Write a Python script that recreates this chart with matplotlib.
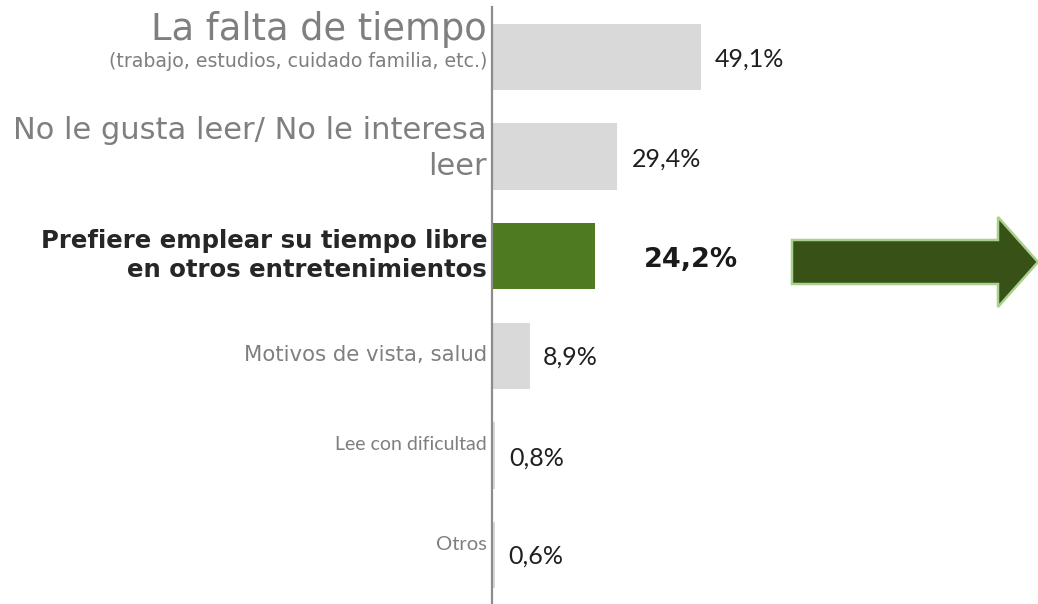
import matplotlib
matplotlib.use("Agg")
import matplotlib.pyplot as plt
from matplotlib.patches import FancyArrow

# ---- data ----
cat_main = "La falta de tiempo"
sublabel = "(trabajo, estudios, cuidado familia, etc.)"
cat_2 = ["No le gusta leer/ No le interesa", "leer"]
cat_3 = ["Prefiere emplear su tiempo libre", "en otros entretenimientos"]
cat_4 = "Motivos de vista, salud"
cat_5 = "Lee con dificultad"
cat_6 = "Otros"
values = [49.1, 29.4, 24.2, 8.9, 0.8, 0.6]
value_labels = ["49,1%", "29,4%", "24,2%", "8,9%", "0,8%", "0,6%"]
highlight = 2

W, H = 1038, 604
fig = plt.figure(figsize=(W / 100, H / 100), dpi=100)
ax = fig.add_axes([0, 0, 1, 1])
ax.axis("off")

pxu = 4.257          # pixels per percentage unit
x0 = 492             # axis position in pixels
ax.set_xlim(-x0 / pxu, (W - x0) / pxu)
row = 99.6
ax.set_ylim((H - 57) / row, -57 / row)

ypos = list(range(len(values)))
colors = ["#d9d9d9"] * len(values)
colors[highlight] = "#4e7a22"
ax.barh(ypos, values, height=0.665, color=colors, edgecolor="none", zorder=2)

ax.axvline(0, ymin=0, ymax=(H - 7) / H, color="#8c8c8c", lw=1.6, zorder=3)

gray = "#7f7f7f"
dark = "#1f1f1f"

def lab(y, text, dy, **kw):
    ax.annotate(text, xy=(0, y), xytext=(-5, dy), textcoords="offset pixels",
                ha="right", va="baseline", **kw)

dv = "DejaVu Sans"
lab(0, cat_main, 17, fontsize=26.5, color=gray, family=dv)
lab(0, sublabel, -10, fontsize=13.6, color=gray, family=dv)
lab(1, cat_2[0], 17.5, fontsize=22, color=gray, family=dv)
lab(1, cat_2[1], -18.5, fontsize=22, color=gray, family=dv)
lab(2, cat_3[0], 8, fontsize=17.6, color="#262626", family=dv, fontweight="bold")
lab(2, cat_3[1], -21, fontsize=17.6, color="#262626", family=dv, fontweight="bold")
lab(3, cat_4, -5, fontsize=15.3, color=gray, family=dv)
lab(4, cat_5, 5, fontsize=14, color=gray, family="Lato")
lab(5, cat_6, 5, fontsize=14.5, color=gray, family="Lato")

# value labels
offs = [14, 15, 49, 13, 14, 14]
dys = [-10, -9.5, -11, -9, -10, -9]
for i, (v, t) in enumerate(zip(values, value_labels)):
    if i == highlight:
        kw = dict(fontsize=19.5, fontweight="bold", color="#1a1a1a", family=dv)
    else:
        kw = dict(fontsize=18, color=dark, family="Lato")
    ax.annotate(t, xy=(v, i), xytext=(offs[i], dys[i]), textcoords="offset pixels",
                ha="left", va="baseline", **kw)

# decorative arrow
arrow = FancyArrow(792 / W, (H - 262) / H, (W - 792) / W, 0,
                   width=44 / H, head_width=90 / H, head_length=40 / W,
                   length_includes_head=True, transform=fig.transFigure,
                   facecolor="#375117", edgecolor="#a9d18e", lw=1.8)
fig.patches.append(arrow)

fig.savefig("out.png", dpi=100)
